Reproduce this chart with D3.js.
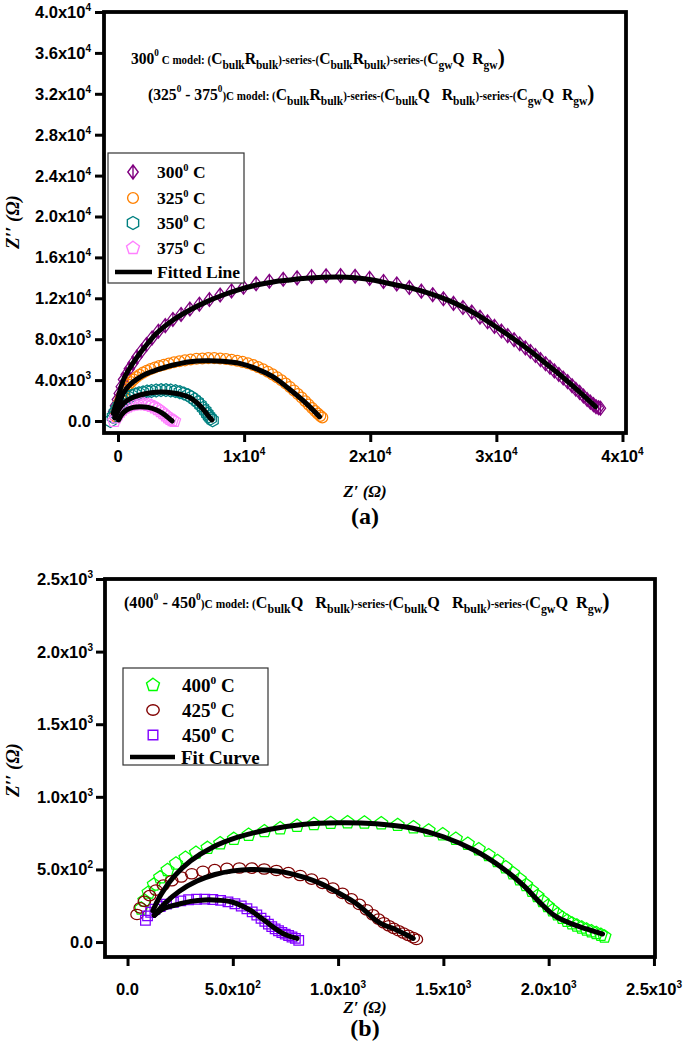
<!DOCTYPE html>
<html><head><meta charset="utf-8">
<script src="https://cdn.jsdelivr.net/npm/d3@7"></script>
<style>body{margin:0;background:#fff}svg{display:block}</style>
</head><body>
<svg id="chart" width="685" height="1042"></svg>
<script>
// ---------------- DATA ----------------
const topNames = ["300", "325", "350", "375"];
const topColors = ["#800080", "#FF8000", "#008080", "#FF80FF"];
const topSymbols = ["diamond", "circle", "hexagon", "pentagon"];
const topFitLabel = "Fitted Line";

const botNames = ["400", "425", "450"];
const botColors = ["#00FF00", "#800000", "#8000FF"];
const botSymbols = ["pentagon", "ellipse", "square"];
const botFitLabel = "Fit Curve";

const topXTicks = [0, 10000, 20000, 30000, 40000];
const topXLabels = [["0", ""], ["1x10", "4"], ["2x10", "4"], ["3x10", "4"], ["4x10", "4"]];
const topYTicks = [0, 4000, 8000, 12000, 16000, 20000, 24000, 28000, 32000, 36000, 40000];
const topYLabels = [["0.0", ""], ["4.0x10", "3"], ["8.0x10", "3"], ["1.2x10", "4"], ["1.6x10", "4"], ["2.0x10", "4"],
  ["2.4x10", "4"], ["2.8x10", "4"], ["3.2x10", "4"], ["3.6x10", "4"], ["4.0x10", "4"]];

const botXTicks = [0, 500, 1000, 1500, 2000, 2500];
const botXLabels = [["0.0", ""], ["5.0x10", "2"], ["1.0x10", "3"], ["1.5x10", "3"], ["2.0x10", "3"], ["2.5x10", "3"]];
const botYTicks = [0, 500, 1000, 1500, 2000, 2500];
const botYLabels = [["0.0", ""], ["5.0x10", "2"], ["1.0x10", "3"], ["1.5x10", "3"], ["2.0x10", "3"], ["2.5x10", "3"]];

// 300 C measured points (Z', Z'')
const d300 = [[-350,900],[-200,1500],[-50,2100],[100,2700],[260,3350],[440,4050],[650,4550],[900,5100],[1180,5650],
  [1500,6250],[1860,6850],[2260,7480],[2700,8120],[3200,8780],[3750,9330],[4350,9930],[5000,10420],[5700,10950],
  [6450,11420],[7250,11880],[8100,12320],[9000,12720],[9950,13080],[10950,13420],[12000,13660],[13100,13860],
  [14200,14000],[15350,14130],[16500,14200],[17650,14220],[18800,14150],[19950,13950],[21050,13650],[22100,13400],
  [23100,13050],[24050,12700],[24950,12350],[25800,11950],[26600,11500],[27350,11100],[28050,10650],[28700,10150],
  [29300,9700],[29850,9250],[30400,8800],[30900,8350],[31400,7950],[31850,7550],[32300,7150],[32700,6800],
  [33100,6400],[33500,6000],[33900,5600],[34250,5250],[34600,4900],[34950,4550],[35300,4200],[35650,3850],
  [36000,3450],[36300,3100],[36600,2800],[36900,2450],[37200,2100],[37450,1850],[37700,1600],[37900,1400],
  [38100,1300],[38250,1250]];
const fit300 = [[-380,750],[0,2270],[420,4000],[1000,5300],[1740,6620],[2400,7650],[3060,8580],[4400,9900],
  [5700,10860],[7000,11650],[8330,12320],[9600,12850],[10970,13300],[12300,13600],[13600,13790],[14900,13950],
  [16240,14050],[17500,14080],[18800,14000],[20200,13790],[22040,13300],[23400,12950],[24680,12480],[26000,11900],
  [27310,11180],[28600,10300],[29950,9220],[31300,8100],[32590,6940],[33900,5650],[35220,4330],[36500,2950],[37860,1400]];

const d325 = [[-250,500],[-150,900],[-40,1350],[80,1750],[210,2150],[350,2550],[500,2950],[660,3250],[840,3550],
  [1030,3800],[1240,4050],[1470,4300],[1720,4520],[1990,4730],[2280,4920],[2590,5090],[2920,5240],[3270,5370],
  [3640,5500],[4030,5620],[4440,5740],[4870,5840],[5310,5930],[5760,6020],[6220,6080],[6690,6120],[7160,6150],
  [7630,6150],[8100,6120],[8560,6060],[9010,5990],[9450,5900],[9880,5780],[10300,5640],[10710,5470],[11110,5280],
  [11500,5060],[11880,4820],[12250,4560],[12610,4280],[12960,3980],[13300,3660],[13630,3330],[13950,2990],
  [14260,2640],[14560,2290],[14850,1940],[15120,1600],[15380,1280],[15620,980],[15840,720],[16040,500],[16200,350]];
const fit325 = [[-250,400],[100,1700],[420,2700],[900,3500],[1500,4100],[2200,4600],[3060,4990],[4300,5450],
  [5700,5800],[7010,5900],[8300,5850],[9650,5640],[11000,5100],[12280,4330],[13600,3100],[14920,1730],[15980,420]];

const d350 = [[-600,0],[-400,400],[-250,800],[-100,1150],[60,1450],[230,1720],[420,1950],[630,2150],[860,2320],
  [1110,2470],[1380,2600],[1670,2710],[1980,2800],[2310,2880],[2660,2940],[3030,2990],[3410,3020],[3800,3020],
  [4180,2990],[4550,2920],[4900,2820],[5230,2690],[5540,2530],[5820,2330],[6080,2100],[6320,1840],[6540,1560],
  [6740,1270],[6920,980],[7080,700],[7220,450],[7350,250],[7500,60]];
const fit350 = [[-250,300],[100,1200],[500,1800],[1000,2200],[1740,2540],[2600,2760],[3500,2830],[4370,2740],
  [5100,2560],[5700,2300],[6200,1850],[6650,1300],[7010,750],[7300,300],[7450,100]];

const d375 = [[-300,0],[-150,350],[0,650],[160,900],[340,1120],[540,1300],[760,1440],[1000,1550],[1260,1620],
  [1530,1660],[1810,1670],[2090,1640],[2370,1580],[2640,1480],[2900,1340],[3140,1170],[3370,970],[3580,760],
  [3780,550],[3960,360],[4130,200],[4290,80],[4450,0]];
const fit375 = [[50,100],[300,650],[700,1100],[1200,1330],[1740,1400],[2400,1330],[3060,1080],[3600,700],[4000,300],[4300,0]];

const d400 = [[65,230],[80,285],[100,340],[125,395],[155,445],[190,495],[230,540],[275,580],[325,615],[380,648],
  [440,680],[505,710],[575,738],[650,763],[725,783],[805,800],[885,812],[965,820],[1045,824],[1125,823],[1205,817],
  [1283,806],[1358,790],[1430,768],[1497,742],[1559,711],[1616,676],[1668,638],[1715,598],[1757,557],[1796,515],
  [1831,473],[1863,432],[1893,392],[1921,353],[1947,316],[1972,281],[1996,248],[2019,218],[2042,191],[2065,167],
  [2088,146],[2111,128],[2134,113],[2157,99],[2180,86],[2203,74],[2226,62],[2248,50],[2265,38]];
const fit400 = [[120,215],[160,330],[220,450],[300,560],[400,650],[520,720],[670,775],[830,810],[1000,822],
  [1180,815],[1350,785],[1500,725],[1650,630],[1780,510],[1880,390],[1960,270],[2030,180],[2110,125],[2180,90],[2256,55]];

const d425 = [[45,190],[60,235],[80,280],[105,320],[135,358],[170,392],[210,422],[255,448],[305,470],[358,487],
  [414,499],[472,507],[531,510],[590,509],[649,503],[707,493],[764,478],[820,458],[874,433],[926,404],[975,371],
  [1021,335],[1063,297],[1101,259],[1135,222],[1165,188],[1192,158],[1217,133],[1241,112],[1264,94],[1287,78],
  [1310,62],[1333,46],[1357,30],[1372,18]];
const fit425 = [[127,184],[180,270],[246,350],[330,420],[415,465],[500,490],[585,500],[670,495],[754,478],[840,445],
  [923,399],[1000,340],[1060,290],[1100,250],[1140,200],[1179,150],[1220,115],[1263,93],[1310,60],[1357,25]];

const d450 = [[85,150],[95,180],[110,205],[130,226],[155,245],[185,261],[218,274],[253,284],[290,291],[328,295],
  [367,296],[405,293],[442,287],[477,277],[510,264],[540,248],[567,229],[592,208],[614,186],[634,164],[652,143],
  [669,123],[685,106],[701,91],[717,78],[733,66],[749,55],[765,45],[781,35],[797,25],[813,12]];
const fit450 = [[127,184],[170,230],[246,262],[300,280],[365,290],[430,288],[500,274],[585,217],[630,170],
  [670,127],[705,90],[738,59],[770,40],[805,25]];

const topData = [d300, d325, d350, d375];
const topFits = [fit300, fit325, fit350, fit375];
const botData = [d400, d425, d450];
const botFits = [fit400, fit425, fit450];

// model texts: [text, kind]
const modelTop1 = [["300","n"],["0","sup"],[" C model: (","s"],["C","n"],["bulk","sub"],["R","n"],["bulk","sub"],
  [")-series-(","s"],["C","n"],["bulk","sub"],["R","n"],["bulk","sub"],[")-series-(","s"],["C","n"],["gw","sub"],
  ["Q  ","n"],["R","n"],["gw","sub"],[")","big"]];
const modelTop2 = [["(325","n"],["0","sup"],[" - 375","n"],["0","sup"],[")C model: (","s"],["C","n"],["bulk","sub"],
  ["R","n"],["bulk","sub"],[")-series-(","s"],["C","n"],["bulk","sub"],["Q   ","n"],["R","n"],["bulk","sub"],
  [")-series-(","s"],["C","n"],["gw","sub"],["Q  ","n"],["R","n"],["gw","sub"],[")","big"]];
const modelBot = [["(400","n"],["0","sup"],[" - 450","n"],["0","sup"],[")C model: (","s"],["C","n"],["bulk","sub"],
  ["Q   ","n"],["R","n"],["bulk","sub"],[")-series-(","s"],["C","n"],["bulk","sub"],["Q   ","n"],["R","n"],["bulk","sub"],
  [")-series-(","s"],["C","n"],["gw","sub"],["Q  ","n"],["R","n"],["gw","sub"],[")","big"]];

// ---------------- DRAWING ----------------
const svg = d3.select("#chart");
svg.append("rect").attr("width", 685).attr("height", 1042).attr("fill", "#fff");

const SANS = "'Liberation Sans', Arial, sans-serif";
const SERIF = "'Liberation Serif', 'Times New Roman', serif";

function symbolPath(type) {
  const poly = (n, r, rot) => {
    const pts = d3.range(n).map(i => {
      const a = (rot + i * 360 / n) * Math.PI / 180;
      return [r * Math.cos(a), r * Math.sin(a)];
    });
    return "M" + pts.map(p => p[0].toFixed(2) + "," + p[1].toFixed(2)).join("L") + "Z";
  };
  switch (type) {
    case "diamond": return "M0,-7L5.2,0L0,7L-5.2,0ZM0,-7L0,7";
    case "circle": return "M-5.4,0a5.4,5.4 0 1,0 10.8,0a5.4,5.4 0 1,0 -10.8,0";
    case "hexagon": return poly(6, 6.5, -90);
    case "pentagon": return poly(5, 6.8, -90);
    case "ellipse": return "M-6.2,0a6.2,5.2 0 1,0 12.4,0a6.2,5.2 0 1,0 -12.4,0";
    case "square": return "M-4.8,-4.8H4.8V4.8H-4.8Z";
  }
}

function rich(parent, x, y, parts, sizes, offs, family, anchor) {
  const t = parent.append("text").attr("x", x).attr("y", y)
    .attr("font-family", family).attr("font-weight", "bold")
    .attr("text-anchor", anchor || "start").style("white-space", "pre").attr("fill", "#000");
  let cur = 0;
  parts.forEach(([s, k]) => {
    if (s === "") return;
    const off = offs[k] || 0;
    t.append("tspan").attr("dy", off - cur).attr("font-size", sizes[k]).text(s);
    cur = off;
  });
  return t;
}

function fitWidth(t, x0, target) {
  const w = t.node().getBBox().width;
  t.attr("transform", `translate(${x0},0) scale(${target / w},1) translate(${-x0},0)`);
}

const tickSizes = {n: 16.5, sup: 10};
const tickOffs = {n: 0, sup: -7};

function panel(cfg) {
  const g = svg.append("g");
  const x = d3.scaleLinear().domain(cfg.xDomain).range([cfg.left, cfg.right]);
  const y = d3.scaleLinear().domain(cfg.yDomain).range([cfg.bottom, cfg.top]);

  // markers
  cfg.data.forEach((pts, i) => {
    g.append("g").selectAll("path").data(pts).join("path")
      .attr("d", symbolPath(cfg.symbols[i]))
      .attr("transform", d => `translate(${x(d[0])},${y(d[1])})`)
      .attr("fill", "none").attr("stroke", cfg.colors[i]).attr("stroke-width", 1.25);
  });
  // fit lines
  const line = d3.line().x(d => x(d[0])).y(d => y(d[1])).curve(d3.curveCatmullRom.alpha(0.5));
  cfg.fits.forEach(f => {
    g.append("path").attr("d", line(f)).attr("fill", "none").attr("stroke", "#000")
      .attr("stroke-width", 5).attr("stroke-linecap", "round").attr("stroke-linejoin", "round");
  });

  // axes (ticks only)
  const ax = g.append("g").attr("transform", `translate(0,${cfg.bottom})`)
    .call(d3.axisBottom(x).tickValues(cfg.xTicks).tickSize(9).tickFormat(() => ""));
  const ay = g.append("g").attr("transform", `translate(${cfg.left},0)`)
    .call(d3.axisLeft(y).tickValues(cfg.yTicks).tickSize(9).tickFormat(() => ""));
  [ax, ay].forEach(a => {
    a.select(".domain").remove();
    a.selectAll(".tick line").attr("stroke", "#000").attr("stroke-width", 3);
  });

  // frame
  g.append("rect").attr("x", cfg.left).attr("y", cfg.top)
    .attr("width", cfg.right - cfg.left).attr("height", cfg.bottom - cfg.top)
    .attr("fill", "none").attr("stroke", "#000").attr("stroke-width", 3.8);

  // tick labels
  cfg.xTicks.forEach((v, i) => {
    const [b, e] = cfg.xLabels[i];
    rich(g, x(v), cfg.xLabelY, [[b, "n"], [e, "sup"]], tickSizes, tickOffs, SANS, "middle");
  });
  cfg.yTicks.forEach((v, i) => {
    const [b, e] = cfg.yLabels[i];
    rich(g, cfg.yLabelX, y(v) + 6, [[b, "n"], [e, "sup"]], tickSizes, tickOffs, SANS, "end");
  });

  // axis titles
  g.append("text").attr("x", cfg.xTitleX).attr("y", cfg.xTitleY).attr("text-anchor", "middle")
    .attr("font-family", SERIF).attr("font-style", "italic").attr("font-weight", "bold").attr("font-size", 17)
    .style("white-space", "pre").text("Z\u2032 (\u03A9)");
  g.append("text").attr("transform", `translate(${cfg.yTitleX},${cfg.yTitleY}) rotate(-90)`).attr("text-anchor", "middle")
    .attr("font-family", SERIF).attr("font-style", "italic").attr("font-weight", "bold").attr("font-size", 19)
    .style("white-space", "pre").text("Z\u2032\u2032 (\u03A9)");
  g.append("text").attr("x", cfg.xTitleX).attr("y", cfg.tagY).attr("text-anchor", "middle")
    .attr("font-family", SERIF).attr("font-weight", "bold").attr("font-size", 24).text(cfg.tag);

  // model texts
  const mSizes = {n: 17, s: 12, sup: 10, sub: 12.5, big: 23};
  const mOffs = {n: 0, s: 0, sup: -8, sub: 5, big: 1};
  cfg.models.forEach(m => {
    const t = rich(g, m.x, m.y, m.parts, mSizes, mOffs, SERIF, "start");
    fitWidth(t, m.x, m.w);
  });

  // legend
  const L = cfg.legend;
  g.append("rect").attr("x", L.x0).attr("y", L.y0).attr("width", L.x1 - L.x0).attr("height", L.y1 - L.y0)
    .attr("fill", "#fff").attr("stroke", "#333").attr("stroke-width", 1.2);
  const lSizes = {n: L.fs, sup: L.fs * 0.6};
  const lOffs = {n: 0, sup: -L.fs * 0.42};
  cfg.names.forEach((nm, i) => {
    const yy = L.rows[i];
    g.append("path").attr("d", symbolPath(cfg.symbols[i])).attr("transform", `translate(${L.mx},${yy})`)
      .attr("fill", "none").attr("stroke", cfg.colors[i]).attr("stroke-width", 1.4);
    rich(g, L.tx, yy + L.fs * 0.36, [[nm, "n"], ["0", "sup"], [" C", "n"]], lSizes, lOffs, SERIF, "start");
  });
  const fy = L.rows[cfg.names.length];
  g.append("line").attr("x1", L.lx0).attr("x2", L.lx1).attr("y1", fy).attr("y2", fy)
    .attr("stroke", "#000").attr("stroke-width", 4.5);
  g.append("text").attr("x", L.tx0).attr("y", fy + L.fs * 0.36).attr("font-family", SERIF).attr("font-weight", "bold")
    .attr("font-size", L.fs).text(cfg.fitLabel);
}

panel({
  left: 104, right: 626, top: 12, bottom: 433,
  xDomain: [-1110, 40278], yDomain: [-1174, 40000],
  data: topData, fits: topFits, colors: topColors, symbols: topSymbols, names: topNames, fitLabel: topFitLabel,
  xTicks: topXTicks, xLabels: topXLabels, yTicks: topYTicks, yLabels: topYLabels,
  xLabelY: 462, yLabelX: 91,
  xTitleX: 365, xTitleY: 497, yTitleX: 19, yTitleY: 222, tag: "(a)", tagY: 524,
  models: [{x: 131, y: 64, w: 374, parts: modelTop1}, {x: 148, y: 100, w: 447, parts: modelTop2}],
  legend: {x0: 108, x1: 244, y0: 153, y1: 283, rows: [172, 198, 223, 248, 272], mx: 133, tx: 157, tx0: 157,
    lx0: 115, lx1: 152, fs: 17.5}
});

panel({
  left: 105, right: 655, top: 579, bottom: 957,
  xDomain: [-107, 2505], yDomain: [-103, 2500],
  data: botData, fits: botFits, colors: botColors, symbols: botSymbols, names: botNames, fitLabel: botFitLabel,
  xTicks: botXTicks, xLabels: botXLabels, yTicks: botYTicks, yLabels: botYLabels,
  xLabelY: 995, yLabelX: 93,
  xTitleX: 365, xTitleY: 1013, yTitleX: 19, yTitleY: 770, tag: "(b)", tagY: 1036,
  models: [{x: 124, y: 608, w: 486, parts: modelBot}],
  legend: {x0: 123, x1: 268, y0: 668, y1: 765, rows: [685, 710, 735, 757], mx: 153, tx: 182, tx0: 181,
    lx0: 130, lx1: 175, fs: 19}
});
</script>
</body></html>
